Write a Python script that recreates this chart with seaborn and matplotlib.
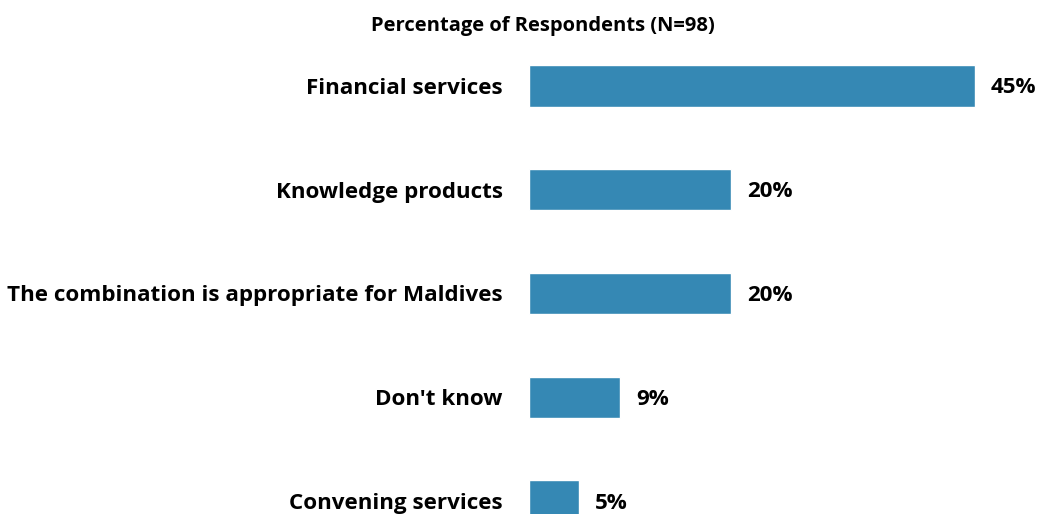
import matplotlib
matplotlib.use("Agg")
import matplotlib.pyplot as plt
import seaborn as sns
import pandas as pd

categories = [
    "Financial services",
    "Knowledge products",
    "The combination is appropriate for Maldives",
    "Don't know",
    "Convening services",
]
percentages = [44.9, 20.4, 20.4, 9.2, 5.1]
title = "Percentage of Respondents (N=98)"

BAR_COLOR = "#3588b4"

sns.set_theme(style="white")
plt.rcParams["font.family"] = ["Open Sans", "DejaVu Sans"]

df = pd.DataFrame({"category": categories, "pct": percentages})

fig = plt.figure(figsize=(10.41, 5.14), dpi=100)
W, H = 1041, 514
# axes placed in pixel terms; the last row runs past the bottom edge
left_px, right_px = 528.5, 1025.5
top_px, bottom_px = 34, 553
ax = fig.add_axes([left_px / W, (H - bottom_px) / H,
                   (right_px - left_px) / W, (bottom_px - top_px) / H])

sns.barplot(data=df, x="pct", y="category", color=BAR_COLOR, saturation=1,
            width=0.4, ax=ax, orient="h")

ax.set_xlim(0, 50)
ax.set_ylim(4.5, -0.5)
ax.set_xlabel("")
ax.set_ylabel("")
ax.set_xticks([])
ax.tick_params(axis="y", length=0, pad=18.5)
for lbl in ax.get_yticklabels():
    lbl.set_fontsize(16.1)
    lbl.set_fontweight("bold")
    lbl.set_color("black")
for s in ax.spines.values():
    s.set_visible(False)

for i, v in enumerate(percentages):
    ax.text(v + 1.6, i + 0.02, f"{v:.0f}%", va="center", ha="left",
            fontsize=16.1, fontweight="bold", color="black")

fig.text(543 / W, 1 - 26 / H, title, ha="center", va="center",
         fontsize=14.5, fontweight="bold", color="black")

fig.savefig("out.png", dpi=100)
